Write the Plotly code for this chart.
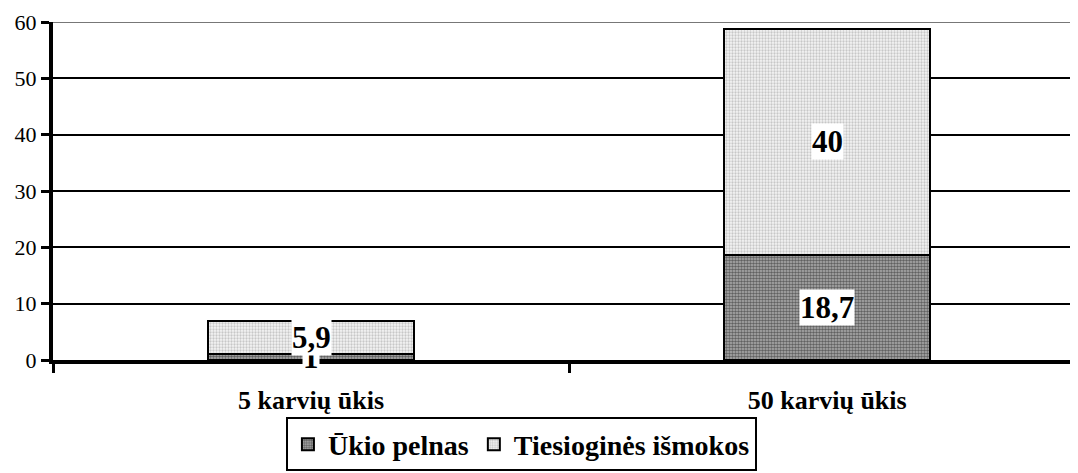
import plotly.graph_objects as go

categories = ["5 karvių ūkis", "50 karvių ūkis"]
pelnas = [1, 18.7]
ismokos = [5.9, 40]
series_names = ["Ūkio pelnas", "Tiesioginės išmokos"]
ytick_vals = [0, 10, 20, 30, 40, 50, 60]

FONT = "Liberation Serif, Times New Roman, serif"

fig = go.Figure()
fig.add_bar(
    x=categories, y=pelnas, name="<b>%s</b>" % series_names[0], width=0.4,
    marker=dict(color="#777777", line=dict(color="black", width=2),
                pattern=dict(shape=".", fgcolor="#111111", bgcolor="#b0b0b0", size=3, solidity=0.55)),
)
fig.add_bar(
    x=categories, y=ismokos, name="<b>%s</b>" % series_names[1], width=0.4,
    marker=dict(color="#dddddd", line=dict(color="black", width=2),
                pattern=dict(shape=".", fgcolor="#999999", bgcolor="#f4f4f4", size=3, solidity=0.45)),
)

def fmt(v):
    return ("%g" % v).replace(".", ",")

annotations = []
for i, c in enumerate(categories):
    annotations.append(dict(x=c, y=pelnas[i] / 2, text="<b>%s</b>" % fmt(pelnas[i]),
                            showarrow=False, bgcolor="white", borderpad=0,
                            font=dict(family=FONT, size=31, color="black")))
for i, c in enumerate(categories):
    annotations.append(dict(x=c, y=pelnas[i] + ismokos[i] / 2, text="<b>%s</b>" % fmt(ismokos[i]),
                            showarrow=False, bgcolor="white", borderpad=0,
                            font=dict(family=FONT, size=31, color="black")))

fig.update_layout(
    barmode="stack",
    width=1070, height=465,
    margin=dict(l=45, r=0, t=14, b=113, autoexpand=False),
    paper_bgcolor="white", plot_bgcolor="white",
    font=dict(family=FONT, color="black"),
    annotations=annotations,
    shapes=[dict(type="line", xref="paper", yref="y", x0=0, x1=1,
                 y0=ytick_vals[-1], y1=ytick_vals[-1], line=dict(color="#777777", width=2))],
    showlegend=True,
    legend=dict(orientation="h", x=0.457, xanchor="center", y=-0.17, yanchor="top",
                bordercolor="black", borderwidth=2, bgcolor="white",
                font=dict(family=FONT, size=28, color="black"),
                itemwidth=30, tracegroupgap=0,
                itemsizing="constant", traceorder="normal"),
    xaxis=dict(range=[-0.5, 1.486], showline=True, linecolor="black", linewidth=4,
               ticks="outside", tickson="boundaries", ticklen=9, tickwidth=3, tickcolor="black",
               tickfont=dict(family=FONT, size=26, color="black"), ticklabelstandoff=14,
               showgrid=False, zeroline=False, automargin=False,
               tickmode="array", tickvals=categories,
               ticktext=["<b>%s</b>" % c for c in categories]),
    yaxis=dict(range=[0, 60], tickvals=ytick_vals, showline=True, linecolor="black", linewidth=4,
               ticks="outside", ticklen=8, tickwidth=3, tickcolor="black", automargin=False,
               tickfont=dict(family=FONT, size=22, color="black"),
               showgrid=True, gridcolor="black", gridwidth=2, zeroline=False),
)

fig.write_html("out.html")
